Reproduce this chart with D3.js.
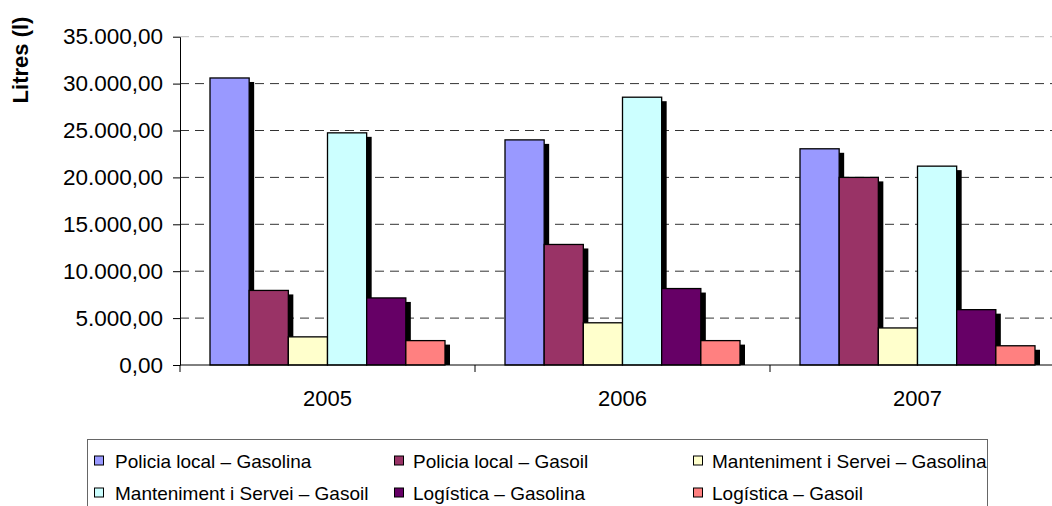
<!DOCTYPE html>
<html>
<head>
<meta charset="utf-8">
<script src="https://cdn.jsdelivr.net/npm/d3@7"></script>
<style>
  html, body { margin: 0; padding: 0; background: #fff; }
  svg { display: block; font-family: "Liberation Sans", Arial, sans-serif; }
</style>
</head>
<body>
<svg id="chart" width="1052" height="506"></svg>
<script>
const years = ["2005", "2006", "2007"];
const seriesNames = [
  "Policia local – Gasolina",
  "Policia local – Gasoil",
  "Manteniment i Servei – Gasolina",
  "Manteniment i Servei – Gasoil",
  "Logística – Gasolina",
  "Logística – Gasoil"
];
const seriesColors = ["#9999FF", "#993366", "#FFFFCC", "#CCFFFF", "#660066", "#FF8080"];
const policiaGasolina = [30600, 24000, 23050];
const policiaGasoil = [7950, 12850, 20000];
const mantenimentGasolina = [3000, 4500, 3950];
const mantenimentGasoil = [24750, 28550, 21200];
const logisticaGasolina = [7150, 8150, 5900];
const logisticaGasoil = [2600, 2600, 2050];
const yTicks = [0, 5000, 10000, 15000, 20000, 25000, 30000, 35000];
const yTitle = "Litres (l)";

const seriesValues = [policiaGasolina, policiaGasoil, mantenimentGasolina,
                      mantenimentGasoil, logisticaGasolina, logisticaGasoil];

(function () {
const svg = d3.select("#chart");
const pLeft = 180, pRight = 1065, pTop = 36.7, pBottom = 365;

const locale = d3.formatLocale({decimal: ",", thousands: ".", grouping: [3], currency: ["", ""]});
const fmt = locale.format(",.2f");

const x0 = d3.scaleBand().domain(years).range([pLeft, pRight]).padding(0);
const groupW = 235;
const x1 = d3.scaleBand().domain(d3.range(seriesNames.length)).range([0, groupW]).padding(0);
const groupOff = (x0.bandwidth() - groupW) / 2;
const y = d3.scaleLinear().domain([0, 35000]).range([pBottom, pTop]);

// grid lines
svg.append("g").selectAll("line").data(yTicks.filter(d => d > 0)).join("line")
  .attr("x1", pLeft).attr("x2", pRight)
  .attr("y1", d => y(d)).attr("y2", d => y(d))
  .attr("stroke", d => d === 35000 ? "#bbb" : "#333").attr("stroke-width", 1)
  .attr("stroke-dasharray", "9,6");

const bars = [];
years.forEach((yr, i) => {
  seriesValues.forEach((vals, s) => {
    bars.push({year: yr, s: s, v: vals[i]});
  });
});

// shadows
svg.append("g").selectAll("rect").data(bars).join("rect")
  .attr("x", d => x0(d.year) + groupOff + x1(d.s) + 5)
  .attr("y", d => y(d.v) + 4)
  .attr("width", x1.bandwidth())
  .attr("height", d => Math.max(0, pBottom - y(d.v) - 4))
  .attr("fill", "#000");

// bars
svg.append("g").selectAll("rect").data(bars).join("rect")
  .attr("x", d => x0(d.year) + groupOff + x1(d.s))
  .attr("y", d => y(d.v))
  .attr("width", x1.bandwidth())
  .attr("height", d => pBottom - y(d.v))
  .attr("fill", d => seriesColors[d.s])
  .attr("stroke", "#000").attr("stroke-width", 1.3);

// y axis
const yAxis = svg.append("g").attr("transform", `translate(${pLeft},0)`)
  .call(d3.axisLeft(y).tickValues(yTicks).tickFormat(fmt).tickSize(7).tickPadding(10).tickSizeOuter(0));
yAxis.selectAll("text").attr("font-size", 22.5).attr("fill", "#000")
  .attr("font-family", "Liberation Sans, Arial, sans-serif");
yAxis.selectAll("line, path").attr("stroke", "#000");

// x axis
const xAxisG = svg.append("g").attr("transform", `translate(0,${pBottom})`);
xAxisG.append("line").attr("x1", pLeft).attr("x2", pRight).attr("y1", 0).attr("y2", 0).attr("stroke", "#000");
const boundaries = years.map(d => x0(d)).concat([pRight]);
xAxisG.selectAll("line.tk").data(boundaries).join("line").attr("class", "tk")
  .attr("x1", d => d).attr("x2", d => d).attr("y1", 0).attr("y2", 7).attr("stroke", "#000");
xAxisG.selectAll("text").data(years).join("text")
  .attr("x", d => x0(d) + x0.bandwidth() / 2)
  .attr("y", 41)
  .attr("text-anchor", "middle")
  .attr("font-size", 22).attr("fill", "#000")
  .text(d => d);

// y title
svg.append("text")
  .attr("transform", "translate(28,60) rotate(-90)")
  .attr("text-anchor", "middle")
  .attr("font-size", 22).attr("font-weight", "bold")
  .text(yTitle);

// legend
const lg = svg.append("g");
lg.append("rect").attr("x", 87.5).attr("y", 439.5).attr("width", 900).attr("height", 100)
  .attr("fill", "none").attr("stroke", "#666").attr("stroke-width", 1);
const colX = [94, 394, 693];
const rowY = [460.5, 492.5];
const items = lg.selectAll("g.item").data(seriesNames).join("g").attr("class", "item")
  .attr("transform", (d, i) => `translate(${colX[i % 3]},${rowY[Math.floor(i / 3)]})`);
items.append("rect").attr("x", 0.5).attr("y", -4.5).attr("width", 9).attr("height", 9)
  .attr("fill", (d, i) => seriesColors[i]).attr("stroke", "#000").attr("stroke-width", 1);
items.append("text").attr("x", (d, i) => i % 3 === 0 ? 21 : 19).attr("y", 2).attr("dy", "0.3em")
  .attr("font-size", 19).attr("fill", "#000").text(d => d);
})();
</script>
</body>
</html>
